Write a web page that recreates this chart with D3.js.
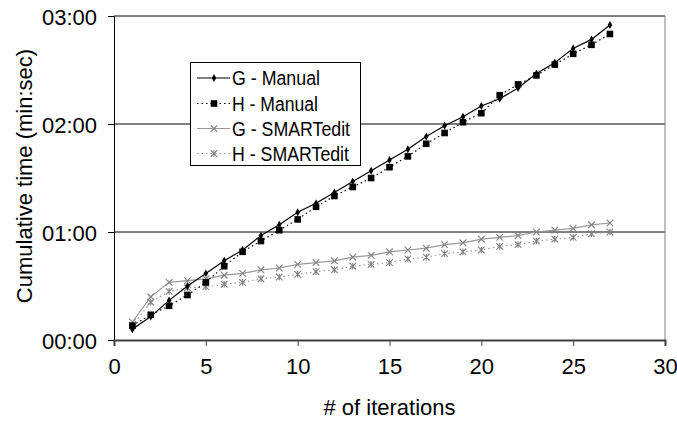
<!DOCTYPE html>
<html>
<head>
<meta charset="utf-8">
<script src="https://cdn.jsdelivr.net/npm/d3@7"></script>
<style>
  body { margin: 0; background: #fff; }
  svg { font-family: "Liberation Sans", Arial, sans-serif; }
</style>
</head>
<body>
<div id="chart"></div>
<script>
(function () {

    // iterations and cumulative time in seconds
    const iterations = d3.range(1, 28);
    const gManual = [6, 13, 22, 30, 37, 44, 50, 58, 64, 71, 76, 82, 88, 94, 100, 106, 113, 119, 124, 130, 134, 140, 148, 154, 162, 167, 175];
    const hManual = [8, 14, 19, 25, 32, 41, 49, 55, 61, 67, 74, 80, 85, 90, 96, 102, 109, 115, 121, 126, 136, 142, 147, 153, 159, 164, 170];
    const gSmart = [10, 24, 32, 33, 34, 36, 37, 39, 40, 42, 43, 44, 46, 47, 49, 50, 51, 53, 54, 56, 57, 58, 60, 61, 62, 64, 65];
    const hSmart = [8, 21, 27, 29, 29.5, 31, 32, 34, 35, 36.5, 38, 39, 41, 42, 43, 45, 46, 48, 49, 50, 52, 53, 55, 56, 57, 59, 60];

    const xTicks = [0, 5, 10, 15, 20, 25, 30];
    const yTicks = [0, 60, 120, 180];
    const seriesNames = ['G - Manual', 'H - Manual', 'G - SMARTedit', 'H - SMARTedit'];

    const width = 677;
    const height = 423;
    const margin = { top: 16, right: 12, bottom: 83, left: 114 };

    const svg = d3.select('#chart')
        .append('svg')
        .attr('width', width)
        .attr('height', height);

    const x = d3.scaleLinear().domain([0, 30]).range([margin.left, width - margin.right]);
    const y = d3.scaleLinear().domain([0, 180]).range([height - margin.bottom, margin.top]);

    const fmt = s => d3.format('02d')(Math.floor(s / 60)) + ':' + d3.format('02d')(s % 60);

    // gridlines
    svg.append('g')
        .selectAll('line')
        .data(yTicks.filter(d => d > 0))
        .join('line')
        .attr('x1', x(0))
        .attr('x2', x(30))
        .attr('y1', d => y(d))
        .attr('y2', d => y(d))
        .attr('stroke', '#000')
        .attr('stroke-width', 1);

    // right border
    svg.append('line')
        .attr('x1', x(30)).attr('x2', x(30))
        .attr('y1', y(180)).attr('y2', y(0))
        .attr('stroke', '#808080');

    // y axis
    const yAxis = svg.append('g')
        .attr('transform', `translate(${x(0)},0)`)
        .call(d3.axisLeft(y).tickValues(yTicks).tickFormat(fmt).tickSize(6).tickPadding(11));
    yAxis.select('.domain').attr('stroke', '#000');
    yAxis.selectAll('text').attr('font-size', 22).attr('fill', '#000').attr('dy', '0.38em');

    // x axis
    const xAxis = svg.append('g')
        .attr('transform', `translate(0,${y(0)})`)
        .call(d3.axisBottom(x).tickValues(xTicks).tickSize(6).tickPadding(12));
    xAxis.select('.domain').attr('stroke', '#404040').attr('stroke-width', 2);
    xAxis.selectAll('.tick line').attr('stroke', '#404040');
    xAxis.selectAll('text').attr('font-size', 22).attr('fill', '#000');

    // axis titles
    svg.append('text')
        .attr('x', (x(0) + x(30)) / 2)
        .attr('y', 415)
        .attr('text-anchor', 'middle')
        .attr('font-size', 22)
        .text('# of iterations');

    svg.append('text')
        .attr('transform', `translate(32,${(y(0) + y(180)) / 2 - 2}) rotate(-90)`)
        .attr('text-anchor', 'middle')
        .attr('font-size', 22)
        .text('Cumulative time (min:sec)');

    const styles = [
        { values: gManual, stroke: '#000', dash: null, marker: 'diamond', color: '#000' },
        { values: hManual, stroke: '#000', dash: '1.5,3', marker: 'square', color: '#000' },
        { values: gSmart, stroke: '#999', dash: null, marker: 'cross', color: '#808080' },
        { values: hSmart, stroke: '#999', dash: '1.5,3', marker: 'star', color: '#808080' }
    ];

    function drawMarker(g, type, color) {
        if (type === 'diamond') {
            g.append('path').attr('d', d3.symbol(d3.symbolDiamond, 18)()).attr('fill', color);
        } else if (type === 'square') {
            g.append('rect').attr('x', -3.3).attr('y', -3.3).attr('width', 6.6).attr('height', 6.6).attr('fill', color);
        } else {
            const r = 3.3;
            g.append('path')
                .attr('d', `M${-r},${-r}L${r},${r}M${-r},${r}L${r},${-r}` + (type === 'star' ? `M0,${-r}L0,${r}` : ''))
                .attr('stroke', color)
                .attr('stroke-width', 1.1)
                .attr('fill', 'none');
        }
    }

    const line = d3.line()
        .x((d, i) => x(iterations[i]))
        .y(d => y(d));

    // draw smartedit first, then manual on top
    [2, 3, 0, 1].forEach(k => {
        const s = styles[k];
        svg.append('path')
            .datum(s.values)
            .attr('d', line)
            .attr('fill', 'none')
            .attr('stroke', s.stroke)
            .attr('stroke-width', 1.2)
            .attr('stroke-dasharray', s.dash);

        svg.append('g')
            .selectAll('g')
            .data(s.values)
            .join('g')
            .attr('transform', (d, i) => `translate(${x(iterations[i])},${y(d)})`)
            .each(function () { drawMarker(d3.select(this), s.marker, s.color); });
    });

    // legend
    const legend = svg.append('g');
    legend.append('rect')
        .attr('x', 190.5)
        .attr('y', 62.5)
        .attr('width', 170)
        .attr('height', 103)
        .attr('fill', '#fff')
        .attr('stroke', '#000');

    const rowY = [78, 103.5, 128.5, 153.5];
    const textW = [88, 86, 118, 117];
    seriesNames.forEach((name, k) => {
        const s = styles[k];
        const row = legend.append('g').attr('transform', `translate(0,${rowY[k]})`);
        row.append('line')
            .attr('x1', 197).attr('x2', 230)
            .attr('stroke', s.stroke)
            .attr('stroke-width', 1.2)
            .attr('stroke-dasharray', s.dash);
        drawMarker(row.append('g').attr('transform', 'translate(214,0)'), s.marker, s.color);
        row.append('text')
            .attr('x', 232)
            .attr('y', 7)
            .attr('font-size', 20)
            .attr('textLength', textW[k])
            .attr('lengthAdjust', 'spacingAndGlyphs')
            .text(name);
    });

})();
</script>
</body>
</html>
